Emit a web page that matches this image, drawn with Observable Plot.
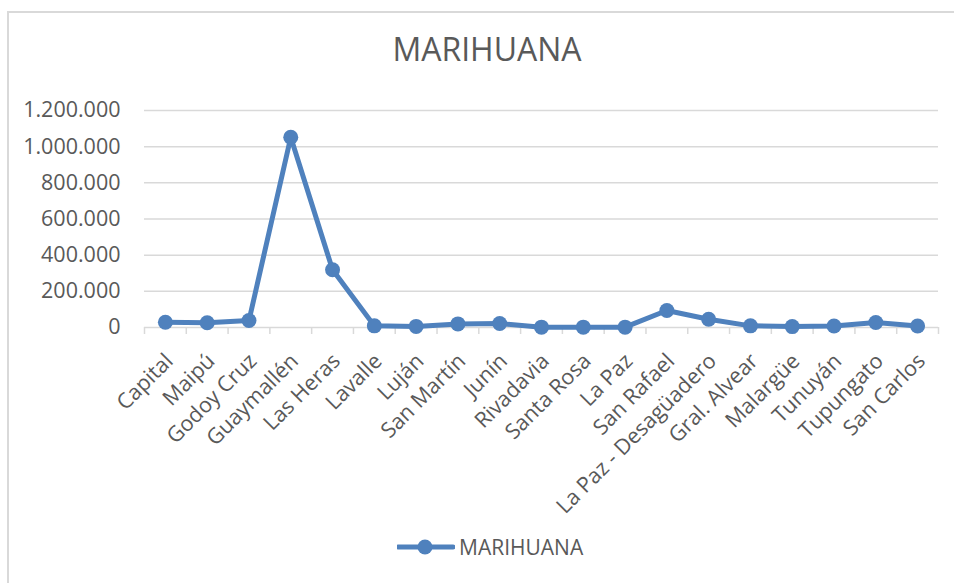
<!DOCTYPE html>
<html>
<head>
<meta charset="utf-8">
<script src="https://cdn.jsdelivr.net/npm/d3@7"></script>
<script src="https://cdn.jsdelivr.net/npm/@observablehq/plot@0.6"></script>
<style>
  html, body { margin: 0; padding: 0; background: #fff; overflow: hidden; width: 954px; height: 583px; }
  #frame { position: absolute; left: 7px; top: 11px; width: 1000px; height: 620px; border: 2px solid #d9d9d9; box-sizing: border-box; }
  #title { position: absolute; left: 0; width: 974px; top: 27px; text-align: center; font-family: "Open Sans", sans-serif; font-size: 32px; color: #595959; }
  #chart { position: absolute; left: 0; top: 0; }
  #legend { position: absolute; left: 397px; top: 533px; font-family: "Open Sans", sans-serif; font-size: 21px; color: #595959; display: flex; align-items: center; }
  #legend svg { margin-right: 4px; }
</style>
</head>
<body>
<div id="frame"></div>
<div id="title">MARIHUANA</div>
<div id="chart"></div>
<div id="legend"></div>
<script>
const categories = ["Capital", "Maipú", "Godoy Cruz", "Guaymallén", "Las Heras", "Lavalle", "Luján", "San Martín", "Junín", "Rivadavia", "Santa Rosa", "La Paz", "San Rafael", "La Paz - Desagüadero", "Gral. Alvear", "Malargüe", "Tunuyán", "Tupungato", "San Carlos"];
const values = [29000, 26000, 39000, 1052000, 319000, 9000, 6000, 20000, 22000, 2000, 2000, 2000, 94000, 46000, 9000, 5000, 8000, 28000, 8000];
const yTicks = [0, 200000, 400000, 600000, 800000, 1000000, 1200000];
const seriesName = "MARIHUANA";
const color = "#4f81bd";

const data = categories.map((c, i) => ({category: c, pos: i + 0.5, value: values[i]}));
const fmt = d3.formatLocale({decimal: ",", thousands: ".", grouping: [3], currency: ["", ""]}).format(",d");
const boundaries = d3.range(categories.length + 1);

const chart = Plot.plot({
  width: 954,
  height: 520,
  marginLeft: 144,
  marginRight: 16,
  marginTop: 110,
  marginBottom: 193,
  style: {fontFamily: "Open Sans, sans-serif", color: "#595959", background: "transparent"},
  x: {type: "linear", domain: [0, categories.length]},
  y: {domain: [0, 1200000]},
  marks: [
    Plot.ruleY(yTicks, {stroke: "#d9d9d9", strokeWidth: 1.5}),
    Plot.axisX({ticks: boundaries, tickSize: 7, tickFormat: () => "", stroke: "#d9d9d9", strokeWidth: 1.5, strokeOpacity: 1, label: null}),
    Plot.axisX({ticks: data.map(d => d.pos), tickSize: 0, tickPadding: 30, dx: 4, tickRotate: -45, fontSize: 21.5, fill: "#595959", tickFormat: d => categories[Math.round(d - 0.5)], label: null}),
    Plot.axisY({ticks: yTicks, tickSize: 0, tickPadding: 24, fontSize: 21.5, fill: "#595959", tickFormat: fmt, label: null}),
    Plot.line(data, {x: "pos", y: "value", stroke: color, strokeWidth: 5, strokeLinejoin: "round"}),
    Plot.dot(data, {x: "pos", y: "value", r: 7.5, fill: color, stroke: "none"})
  ]
});
document.getElementById("chart").appendChild(chart);

const legend = document.getElementById("legend");
legend.innerHTML = `<svg width="58" height="20"><line x1="1" y1="10" x2="56" y2="10" stroke="${color}" stroke-width="5" stroke-linecap="round"/><circle cx="28" cy="10" r="7.5" fill="${color}"/></svg><span>${seriesName}</span>`;
</script>
</body>
</html>
